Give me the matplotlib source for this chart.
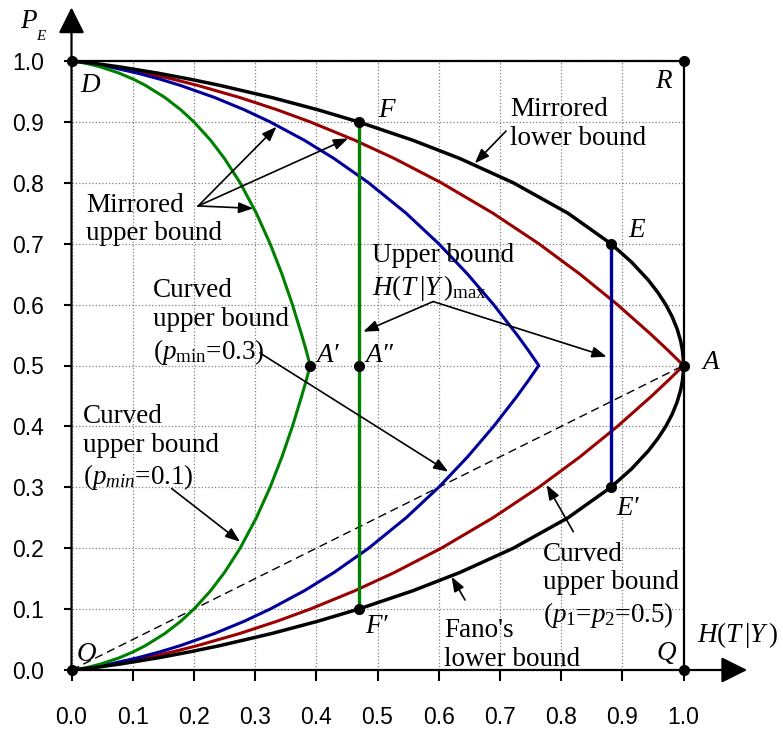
import numpy as np
import matplotlib
matplotlib.use("Agg")
import matplotlib.pyplot as plt

plt.rcParams['font.family'] = ['Liberation Serif', 'DejaVu Serif']
plt.rcParams['mathtext.fontset'] = 'custom'
plt.rcParams['mathtext.rm'] = 'Liberation Serif'
plt.rcParams['mathtext.it'] = 'Liberation Serif:italic'

# error probability P_E along the lower half of each curved bound
pe = [0, 0.002, 0.005, 0.01, 0.02, 0.03, 0.04, 0.06, 0.08, 0.1, 0.13, 0.16,
      0.2, 0.25, 0.3, 0.35, 0.4, 0.45, 0.475, 0.5]
# H(T|Y) at those P_E values
h_p05 = [0, 0.0188, 0.0405, 0.0710, 0.1223, 0.1663, 0.2057, 0.2751, 0.3357, 0.3900,
         0.4627, 0.5274, 0.6042, 0.6887, 0.7635, 0.8308, 0.8920, 0.9481, 0.9746, 1.0]
h_p03 = [0, 0.0174, 0.0368, 0.0637, 0.1079, 0.1451, 0.1777, 0.2340, 0.2821, 0.3245,
         0.3802, 0.4288, 0.4855, 0.5468, 0.6000, 0.6472, 0.6897, 0.7283, 0.7463, 0.7635]
h_p01 = [0, 0.0142, 0.0290, 0.0484, 0.0780, 0.1013, 0.1208, 0.1527, 0.1784, 0.2000,
         0.2272, 0.2499, 0.2755, 0.3021, 0.3245, 0.3439, 0.3610, 0.3762, 0.3834, 0.3900]

# Fano's lower bound
pe_fano = [0, 0.002, 0.005, 0.01, 0.02, 0.03, 0.04, 0.06, 0.08, 0.1, 0.13, 0.16, 0.2,
           0.25, 0.3, 0.33, 0.36, 0.38, 0.4, 0.42, 0.44, 0.46, 0.475, 0.49, 0.5]
h_fano = [0, 0.0208, 0.0454, 0.0808, 0.1414, 0.1944, 0.2423, 0.3274, 0.4022, 0.4690,
          0.5574, 0.6343, 0.7219, 0.8113, 0.8813, 0.9149, 0.9427, 0.9580, 0.9710,
          0.9815, 0.9896, 0.9954, 0.9982, 0.9997, 1.0]

# upper bounds H(T|Y)_max (vertical segments)
vline_x = [0.469, 0.881]
vline_lo = [0.1, 0.3]
vline_hi = [0.9, 0.7]

# marked points O, D, R, Q, A, F, F', E, E', A', A''
pt_x = [0, 0, 1, 1, 1, 0.469, 0.469, 0.881, 0.881, 0.390, 0.469]
pt_y = [0, 1, 1, 0, 0.5, 0.9, 0.1, 0.7, 0.3, 0.5, 0.5]

ticks = [0.0, 0.1, 0.2, 0.3, 0.4, 0.5, 0.6, 0.7, 0.8, 0.9, 1.0]

RED = '#990000'
BLUE = '#000099'
GREEN = '#008000'

fig = plt.figure(figsize=(7.83, 7.31), dpi=100)
ax = fig.add_axes([71.5 / 783, 61 / 731, 612 / 783, 609 / 731])
ax.set_xlim(0, 1)
ax.set_ylim(0, 1)
for s in ax.spines.values():
    s.set_visible(False)

ax.set_xticks(ticks)
ax.set_yticks(ticks)
ax.set_xticklabels([f"{t:.1f}" for t in ticks], fontfamily='Liberation Sans', fontsize=16.5)
ax.set_yticklabels([f"{t:.1f}" for t in ticks], fontfamily='Liberation Sans', fontsize=16.5)
ax.tick_params(axis='x', direction='out', length=8, width=1.5, pad=18)
ax.tick_params(axis='y', direction='out', length=6, width=1.5, pad=14)
ax.grid(True, ls=':', color='#808080', lw=0.9)
ax.set_axisbelow(True)

# axes with arrow heads, and the box edges
arrow = dict(arrowstyle='-|>,head_length=0.4,head_width=0.2', color='k', lw=1.6,
             mutation_scale=40, shrinkA=0, shrinkB=0)
ax.annotate('', xy=(0, 1.088), xytext=(0, 0), arrowprops=arrow, annotation_clip=False)
ax.annotate('', xy=(1.104, 0), xytext=(0, 0), arrowprops=arrow, annotation_clip=False)
ax.plot([0, 1], [1, 1], color='k', lw=1.6, clip_on=False)
ax.plot([1, 1], [0, 1], color='k', lw=1.6, clip_on=False)

# dashed line O-A
ax.plot([0, 1], [0, 0.5], color='k', lw=1, dashes=(6, 3.5))

# curves: lower half then its mirror (1 - P_E) back to D
pe_arr = np.array(pe)
pe_full = np.concatenate([pe_arr, (1 - pe_arr)[::-1]])
for h, c in [(h_p05, RED), (h_p03, BLUE), (h_p01, GREEN)]:
    h_arr = np.array(h)
    ax.plot(np.concatenate([h_arr, h_arr[::-1]]), pe_full, color=c, lw=2.2,
            clip_on=False)
pf = np.array(pe_fano)
hf = np.array(h_fano)
ax.plot(np.concatenate([hf, hf[::-1]]), np.concatenate([pf, (1 - pf)[::-1]]),
        color='k', lw=2.5, clip_on=False)

for x, lo, hi, c in zip(vline_x, vline_lo, vline_hi, [GREEN, BLUE]):
    ax.plot([x, x], [lo, hi], color=c, lw=2.4)

ax.plot(pt_x, pt_y, 'o', color='k', ms=7, clip_on=False, zorder=5)

# point labels
fs = 19.5
it = dict(fontsize=fs, fontstyle='italic', ha='left', va='baseline')
ax.text(-0.0842, 1.0537, 'P', **it)
ax.text(-0.0569, 1.0345, 'E', fontsize=11, fontstyle='italic', ha='left', va='baseline')
ax.text(0.0139, 0.9496, 'D', **it)
ax.text(0.5008, 0.908, 'F', **it)
ax.text(0.953, 0.955, 'R', **it)
ax.text(0.910, 0.7115, 'E', **it)
ax.text(1.031, 0.4937, 'A', **it)
ax.text(0.891, 0.2545, 'E\u2032', **it)
ax.text(0.956, 0.0164, 'Q', **it)
ax.text(0.0085, 0.0148, 'O', **it)
ax.text(0.4796, 0.0602, 'F\u2032', **it)
ax.text(0.4006, 0.5063, 'A\u2032', **it)
ax.text(0.4796, 0.5063, 'A\u2033', **it)
ax.text(1.0216, 0.0465, r'$H(T\,|Y\,)$', fontsize=fs, ha='left', va='baseline')

# annotation texts
tx = dict(fontsize=fs, ha='left', va='top', linespacing=1.2)
ax.text(0.7165, 0.941, 'Mirrored\nlower bound', **tx)
ax.text(0.0237, 0.7838, 'Mirrored\nupper bound', **tx)
ax.text(0.1327, 0.6431, 'Curved\nupper bound\n' + r'($p_{\rm min}$=0.3)', **tx)
ax.text(0.0193, 0.4368, 'Curved\nupper bound\n' + r'($p_{min}$=0.1)', **tx)
ax.text(0.4905, 0.7006, 'Upper bound\n' + r'$H(T\,|Y\,)_{\rm max}$', **tx)
ax.text(0.771, 0.2107, 'Curved\nupper bound\n' + r'($p_1$=$p_2$=0.5)', **tx)
ax.text(0.609, 0.0849, "Fano's\nlower bound", **tx)

# pointer arrows
pa = dict(arrowstyle='-|>,head_length=0.8,head_width=0.3', color='k', lw=1.2,
          mutation_scale=11, shrinkA=0, shrinkB=0)
arrows = [((0.71, 0.885), (0.659, 0.832)),
          ((0.207, 0.762), (0.335, 0.892)),
          ((0.207, 0.762), (0.452, 0.873)),
          ((0.207, 0.762), (0.297, 0.758)),
          ((0.308, 0.5205), (0.6157, 0.3256)),
          ((0.1637, 0.298), (0.2753, 0.2107)),
          ((0.591, 0.605), (0.4768, 0.5555)),
          ((0.591, 0.605), (0.8745, 0.5145)),
          ((0.82, 0.227), (0.7765, 0.3038)),
          ((0.643, 0.115), (0.621, 0.153))]
for start, tip in arrows:
    ax.annotate('', xy=tip, xytext=start, arrowprops=pa, annotation_clip=False)

fig.savefig('out.png', dpi=100)
